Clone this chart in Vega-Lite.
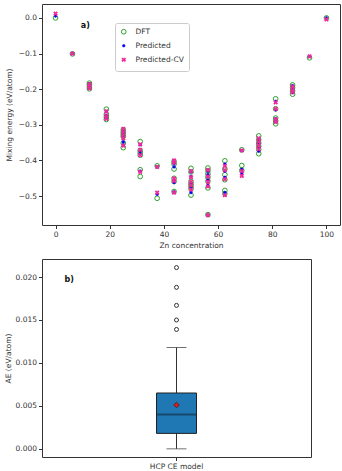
{
  "$schema": "https://vega.github.io/schema/vega-lite/v6.json",
  "padding": {"left": 3, "top": 3, "right": 3, "bottom": 2},
  "config": {
    "font": "DejaVu Sans",
    "view": {"stroke": "#333", "strokeWidth": 1},
    "axis": {"labelFont": "DejaVu Sans", "titleFont": "DejaVu Sans", "labelFontSize": 7.5, "titleFontSize": 7.5, "titleFontWeight": "normal", "labelColor": "#333", "titleColor": "#333", "tickColor": "#333", "tickSize": 3.5, "labelPadding": 2, "grid": false, "domain": false, "titlePadding": 3},
    "legend": {"labelFont": "DejaVu Sans", "labelFontSize": 7.5, "labelColor": "#333"}
  },
  "datasets": {
    "mix": [
      {"c": 0, "e": 0.0, "s": "DFT"},
      {"c": 6.25, "e": -0.101, "s": "DFT"},
      {"c": 12.5, "e": -0.183, "s": "DFT"}, {"c": 12.5, "e": -0.188, "s": "DFT"}, {"c": 12.5, "e": -0.194, "s": "DFT"}, {"c": 12.5, "e": -0.199, "s": "DFT"},
      {"c": 18.75, "e": -0.256, "s": "DFT"}, {"c": 18.75, "e": -0.271, "s": "DFT"}, {"c": 18.75, "e": -0.278, "s": "DFT"}, {"c": 18.75, "e": -0.285, "s": "DFT"},
      {"c": 25, "e": -0.314, "s": "DFT"}, {"c": 25, "e": -0.321, "s": "DFT"}, {"c": 25, "e": -0.327, "s": "DFT"}, {"c": 25, "e": -0.333, "s": "DFT"}, {"c": 25, "e": -0.351, "s": "DFT"}, {"c": 25, "e": -0.364, "s": "DFT"},
      {"c": 31.25, "e": -0.347, "s": "DFT"}, {"c": 31.25, "e": -0.372, "s": "DFT"}, {"c": 31.25, "e": -0.378, "s": "DFT"}, {"c": 31.25, "e": -0.385, "s": "DFT"}, {"c": 31.25, "e": -0.426, "s": "DFT"}, {"c": 31.25, "e": -0.445, "s": "DFT"},
      {"c": 37.5, "e": -0.415, "s": "DFT"}, {"c": 37.5, "e": -0.506, "s": "DFT"},
      {"c": 43.75, "e": -0.403, "s": "DFT"}, {"c": 43.75, "e": -0.41, "s": "DFT"}, {"c": 43.75, "e": -0.424, "s": "DFT"}, {"c": 43.75, "e": -0.45, "s": "DFT"}, {"c": 43.75, "e": -0.459, "s": "DFT"}, {"c": 43.75, "e": -0.487, "s": "DFT"},
      {"c": 50, "e": -0.422, "s": "DFT"}, {"c": 50, "e": -0.432, "s": "DFT"}, {"c": 50, "e": -0.459, "s": "DFT"}, {"c": 50, "e": -0.466, "s": "DFT"}, {"c": 50, "e": -0.472, "s": "DFT"}, {"c": 50, "e": -0.479, "s": "DFT"}, {"c": 50, "e": -0.497, "s": "DFT"},
      {"c": 56.25, "e": -0.421, "s": "DFT"}, {"c": 56.25, "e": -0.429, "s": "DFT"}, {"c": 56.25, "e": -0.438, "s": "DFT"}, {"c": 56.25, "e": -0.447, "s": "DFT"}, {"c": 56.25, "e": -0.458, "s": "DFT"}, {"c": 56.25, "e": -0.477, "s": "DFT"}, {"c": 56.25, "e": -0.552, "s": "DFT"},
      {"c": 62.5, "e": -0.401, "s": "DFT"}, {"c": 62.5, "e": -0.424, "s": "DFT"}, {"c": 62.5, "e": -0.44, "s": "DFT"}, {"c": 62.5, "e": -0.454, "s": "DFT"}, {"c": 62.5, "e": -0.484, "s": "DFT"}, {"c": 62.5, "e": -0.493, "s": "DFT"},
      {"c": 68.75, "e": -0.37, "s": "DFT"}, {"c": 68.75, "e": -0.414, "s": "DFT"}, {"c": 68.75, "e": -0.428, "s": "DFT"},
      {"c": 75, "e": -0.331, "s": "DFT"}, {"c": 75, "e": -0.342, "s": "DFT"}, {"c": 75, "e": -0.351, "s": "DFT"}, {"c": 75, "e": -0.36, "s": "DFT"}, {"c": 75, "e": -0.369, "s": "DFT"}, {"c": 75, "e": -0.381, "s": "DFT"},
      {"c": 81.25, "e": -0.227, "s": "DFT"}, {"c": 81.25, "e": -0.255, "s": "DFT"}, {"c": 81.25, "e": -0.281, "s": "DFT"}, {"c": 81.25, "e": -0.289, "s": "DFT"}, {"c": 81.25, "e": -0.297, "s": "DFT"},
      {"c": 87.5, "e": -0.188, "s": "DFT"}, {"c": 87.5, "e": -0.196, "s": "DFT"}, {"c": 87.5, "e": -0.205, "s": "DFT"}, {"c": 87.5, "e": -0.214, "s": "DFT"},
      {"c": 93.75, "e": -0.112, "s": "DFT"},
      {"c": 100, "e": 0.0, "s": "DFT"},
      {"c": 0, "e": 0.005, "s": "Predicted"},
      {"c": 6.25, "e": -0.1, "s": "Predicted"},
      {"c": 12.5, "e": -0.185, "s": "Predicted"}, {"c": 12.5, "e": -0.19, "s": "Predicted"}, {"c": 12.5, "e": -0.196, "s": "Predicted"},
      {"c": 18.75, "e": -0.262, "s": "Predicted"}, {"c": 18.75, "e": -0.273, "s": "Predicted"}, {"c": 18.75, "e": -0.281, "s": "Predicted"},
      {"c": 25, "e": -0.318, "s": "Predicted"}, {"c": 25, "e": -0.325, "s": "Predicted"}, {"c": 25, "e": -0.332, "s": "Predicted"}, {"c": 25, "e": -0.348, "s": "Predicted"}, {"c": 25, "e": -0.356, "s": "Predicted"},
      {"c": 31.25, "e": -0.356, "s": "Predicted"}, {"c": 31.25, "e": -0.374, "s": "Predicted"}, {"c": 31.25, "e": -0.381, "s": "Predicted"}, {"c": 31.25, "e": -0.43, "s": "Predicted"},
      {"c": 37.5, "e": -0.418, "s": "Predicted"}, {"c": 37.5, "e": -0.495, "s": "Predicted"},
      {"c": 43.75, "e": -0.408, "s": "Predicted"}, {"c": 43.75, "e": -0.418, "s": "Predicted"}, {"c": 43.75, "e": -0.455, "s": "Predicted"}, {"c": 43.75, "e": -0.462, "s": "Predicted"}, {"c": 43.75, "e": -0.488, "s": "Predicted"},
      {"c": 50, "e": -0.432, "s": "Predicted"}, {"c": 50, "e": -0.445, "s": "Predicted"}, {"c": 50, "e": -0.464, "s": "Predicted"}, {"c": 50, "e": -0.475, "s": "Predicted"}, {"c": 50, "e": -0.49, "s": "Predicted"},
      {"c": 56.25, "e": -0.43, "s": "Predicted"}, {"c": 56.25, "e": -0.44, "s": "Predicted"}, {"c": 56.25, "e": -0.455, "s": "Predicted"}, {"c": 56.25, "e": -0.47, "s": "Predicted"}, {"c": 56.25, "e": -0.553, "s": "Predicted"},
      {"c": 62.5, "e": -0.41, "s": "Predicted"}, {"c": 62.5, "e": -0.43, "s": "Predicted"}, {"c": 62.5, "e": -0.447, "s": "Predicted"}, {"c": 62.5, "e": -0.49, "s": "Predicted"},
      {"c": 68.75, "e": -0.372, "s": "Predicted"}, {"c": 68.75, "e": -0.425, "s": "Predicted"}, {"c": 68.75, "e": -0.437, "s": "Predicted"},
      {"c": 75, "e": -0.342, "s": "Predicted"}, {"c": 75, "e": -0.352, "s": "Predicted"}, {"c": 75, "e": -0.363, "s": "Predicted"}, {"c": 75, "e": -0.374, "s": "Predicted"},
      {"c": 81.25, "e": -0.234, "s": "Predicted"}, {"c": 81.25, "e": -0.258, "s": "Predicted"}, {"c": 81.25, "e": -0.283, "s": "Predicted"}, {"c": 81.25, "e": -0.29, "s": "Predicted"},
      {"c": 87.5, "e": -0.19, "s": "Predicted"}, {"c": 87.5, "e": -0.2, "s": "Predicted"}, {"c": 87.5, "e": -0.21, "s": "Predicted"},
      {"c": 93.75, "e": -0.108, "s": "Predicted"},
      {"c": 100, "e": 0.0, "s": "Predicted"},
      {"c": 0, "e": 0.012, "s": "Predicted-CV"},
      {"c": 6.25, "e": -0.1, "s": "Predicted-CV"},
      {"c": 12.5, "e": -0.186, "s": "Predicted-CV"}, {"c": 12.5, "e": -0.192, "s": "Predicted-CV"}, {"c": 12.5, "e": -0.198, "s": "Predicted-CV"},
      {"c": 18.75, "e": -0.262, "s": "Predicted-CV"}, {"c": 18.75, "e": -0.275, "s": "Predicted-CV"}, {"c": 18.75, "e": -0.283, "s": "Predicted-CV"},
      {"c": 25, "e": -0.311, "s": "Predicted-CV"}, {"c": 25, "e": -0.32, "s": "Predicted-CV"}, {"c": 25, "e": -0.329, "s": "Predicted-CV"}, {"c": 25, "e": -0.338, "s": "Predicted-CV"}, {"c": 25, "e": -0.358, "s": "Predicted-CV"},
      {"c": 31.25, "e": -0.355, "s": "Predicted-CV"}, {"c": 31.25, "e": -0.37, "s": "Predicted-CV"}, {"c": 31.25, "e": -0.385, "s": "Predicted-CV"}, {"c": 31.25, "e": -0.432, "s": "Predicted-CV"},
      {"c": 37.5, "e": -0.418, "s": "Predicted-CV"}, {"c": 37.5, "e": -0.49, "s": "Predicted-CV"},
      {"c": 43.75, "e": -0.4, "s": "Predicted-CV"}, {"c": 43.75, "e": -0.406, "s": "Predicted-CV"}, {"c": 43.75, "e": -0.45, "s": "Predicted-CV"}, {"c": 43.75, "e": -0.457, "s": "Predicted-CV"}, {"c": 43.75, "e": -0.49, "s": "Predicted-CV"},
      {"c": 50, "e": -0.43, "s": "Predicted-CV"}, {"c": 50, "e": -0.447, "s": "Predicted-CV"}, {"c": 50, "e": -0.46, "s": "Predicted-CV"}, {"c": 50, "e": -0.47, "s": "Predicted-CV"}, {"c": 50, "e": -0.482, "s": "Predicted-CV"},
      {"c": 56.25, "e": -0.427, "s": "Predicted-CV"}, {"c": 56.25, "e": -0.445, "s": "Predicted-CV"}, {"c": 56.25, "e": -0.46, "s": "Predicted-CV"}, {"c": 56.25, "e": -0.473, "s": "Predicted-CV"}, {"c": 56.25, "e": -0.553, "s": "Predicted-CV"},
      {"c": 62.5, "e": -0.415, "s": "Predicted-CV"}, {"c": 62.5, "e": -0.427, "s": "Predicted-CV"}, {"c": 62.5, "e": -0.452, "s": "Predicted-CV"}, {"c": 62.5, "e": -0.497, "s": "Predicted-CV"},
      {"c": 68.75, "e": -0.372, "s": "Predicted-CV"}, {"c": 68.75, "e": -0.43, "s": "Predicted-CV"}, {"c": 68.75, "e": -0.443, "s": "Predicted-CV"},
      {"c": 75, "e": -0.338, "s": "Predicted-CV"}, {"c": 75, "e": -0.348, "s": "Predicted-CV"}, {"c": 75, "e": -0.358, "s": "Predicted-CV"}, {"c": 75, "e": -0.368, "s": "Predicted-CV"},
      {"c": 81.25, "e": -0.237, "s": "Predicted-CV"}, {"c": 81.25, "e": -0.255, "s": "Predicted-CV"}, {"c": 81.25, "e": -0.285, "s": "Predicted-CV"}, {"c": 81.25, "e": -0.292, "s": "Predicted-CV"},
      {"c": 87.5, "e": -0.193, "s": "Predicted-CV"}, {"c": 87.5, "e": -0.202, "s": "Predicted-CV"}, {"c": 87.5, "e": -0.208, "s": "Predicted-CV"},
      {"c": 93.75, "e": -0.108, "s": "Predicted-CV"},
      {"c": 100, "e": -0.004, "s": "Predicted-CV"}
    ],
    "stats": [
      {"model": "HCP CE model", "lower": 0.0, "q1": 0.0018, "median": 0.004, "q3": 0.0065, "upper": 0.0118, "mean": 0.0051}
    ],
    "outliers": [
      {"model": "HCP CE model", "ae": 0.0139},
      {"model": "HCP CE model", "ae": 0.015},
      {"model": "HCP CE model", "ae": 0.0167},
      {"model": "HCP CE model", "ae": 0.0188},
      {"model": "HCP CE model", "ae": 0.0211}
    ]
  },
  "concat": [
    {
      "width": 298,
      "height": 221,
      "layer": [
        {
          "data": {"name": "mix"},
          "mark": {"type": "point", "opacity": 1},
          "encoding": {
            "x": {"field": "c", "type": "quantitative", "scale": {"domain": [-5, 105], "nice": false, "zero": false}, "axis": {"values": [0, 20, 40, 60, 80, 100], "format": "d", "title": "Zn concentration"}},
            "y": {"field": "e", "type": "quantitative", "scale": {"domain": [-0.581, 0.039], "nice": false, "zero": false}, "axis": {"values": [-0.5, -0.4, -0.3, -0.2, -0.1, 0], "format": ".1f", "title": "Mixing energy (eV/atom)", "titlePadding": 5}},
            "shape": {"field": "s", "type": "nominal", "scale": {"domain": ["DFT", "Predicted", "Predicted-CV"], "range": ["circle", "circle", "M-1,-1L1,1M1,-1L-1,1"]}, "legend": {"orient": "none", "legendX": 73, "legendY": 19, "title": null, "strokeColor": "#ccc", "fillColor": "white", "padding": 5, "cornerRadius": 2, "rowPadding": 4, "labelOffset": 8}},
            "fill": {"field": "s", "type": "nominal", "scale": {"domain": ["DFT", "Predicted", "Predicted-CV"], "range": ["transparent", "#0000ff", "#ee2a9c"]}, "legend": {"orient": "none", "legendX": 73, "legendY": 19, "title": null, "strokeColor": "#ccc", "fillColor": "white", "padding": 5, "cornerRadius": 2, "rowPadding": 4, "labelOffset": 8}},
            "stroke": {"field": "s", "type": "nominal", "scale": {"domain": ["DFT", "Predicted", "Predicted-CV"], "range": ["#2ca02c", "#0000ff", "#ee2a9c"]}, "legend": {"orient": "none", "legendX": 73, "legendY": 19, "title": null, "strokeColor": "#ccc", "fillColor": "white", "padding": 5, "cornerRadius": 2, "rowPadding": 4, "labelOffset": 8}},
            "size": {"field": "s", "type": "nominal", "scale": {"type": "ordinal", "domain": ["DFT", "Predicted", "Predicted-CV"], "range": [22, 7, 12]}, "legend": {"orient": "none", "legendX": 73, "legendY": 19, "title": null, "strokeColor": "#ccc", "fillColor": "white", "padding": 5, "cornerRadius": 2, "rowPadding": 4, "labelOffset": 8}},
            "strokeWidth": {"field": "s", "type": "nominal", "scale": {"type": "ordinal", "domain": ["DFT", "Predicted", "Predicted-CV"], "range": [1, 0.5, 1.8]}, "legend": {"orient": "none", "legendX": 73, "legendY": 19, "title": null, "strokeColor": "#ccc", "fillColor": "white", "padding": 5, "cornerRadius": 2, "rowPadding": 4, "labelOffset": 8}}
          }
        },
        {
          "data": {"values": [{"label": "a)"}]},
          "mark": {"type": "text", "align": "left", "baseline": "middle", "fontWeight": "bold", "fontSize": 8, "color": "#111"},
          "encoding": {"x": {"datum": 9.3}, "y": {"datum": -0.022}, "text": {"field": "label"}}
        }
      ]
    },
    {
      "width": 269,
      "height": 198,
      "layer": [
        {
          "data": {"name": "stats"},
          "mark": {"type": "rule", "color": "#333", "strokeWidth": 1},
          "encoding": {
            "x": {"field": "model", "type": "nominal", "scale": {"paddingInner": 0, "paddingOuter": 0}, "axis": {"title": null, "labelAngle": 0}},
            "y": {"field": "lower", "type": "quantitative", "scale": {"domain": [-0.00095, 0.0221], "nice": false, "zero": false}, "axis": {"values": [0, 0.005, 0.01, 0.015, 0.02], "format": ".3f", "title": "AE (eV/atom)", "titlePadding": 3}},
            "y2": {"field": "upper"}
          }
        },
        {
          "data": {"name": "stats"},
          "mark": {"type": "tick", "color": "#333", "size": 20, "thickness": 1},
          "encoding": {"x": {"field": "model", "type": "nominal"}, "y": {"field": "lower", "type": "quantitative"}}
        },
        {
          "data": {"name": "stats"},
          "mark": {"type": "tick", "color": "#333", "size": 20, "thickness": 1},
          "encoding": {"x": {"field": "model", "type": "nominal"}, "y": {"field": "upper", "type": "quantitative"}}
        },
        {
          "data": {"name": "stats"},
          "mark": {"type": "bar", "size": 40, "fill": "#1f77b4", "stroke": "#222", "strokeWidth": 1},
          "encoding": {"x": {"field": "model", "type": "nominal"}, "y": {"field": "q1", "type": "quantitative"}, "y2": {"field": "q3"}}
        },
        {
          "data": {"name": "stats"},
          "mark": {"type": "tick", "color": "#14354f", "size": 40, "thickness": 1.8},
          "encoding": {"x": {"field": "model", "type": "nominal"}, "y": {"field": "median", "type": "quantitative"}}
        },
        {
          "data": {"name": "stats"},
          "mark": {"type": "point", "shape": "diamond", "filled": true, "fill": "#d62020", "stroke": "#5a1010", "strokeWidth": 0.8, "size": 30, "opacity": 1},
          "encoding": {"x": {"field": "model", "type": "nominal"}, "y": {"field": "mean", "type": "quantitative"}}
        },
        {
          "data": {"name": "outliers"},
          "mark": {"type": "point", "shape": "circle", "filled": false, "stroke": "#333", "strokeWidth": 1, "size": 16, "opacity": 1},
          "encoding": {"x": {"field": "model", "type": "nominal"}, "y": {"field": "ae", "type": "quantitative"}}
        },
        {
          "data": {"values": [{"model": "HCP CE model", "label": "b)"}]},
          "mark": {"type": "text", "align": "left", "baseline": "middle", "fontWeight": "bold", "fontSize": 8, "color": "#111", "dx": -112},
          "encoding": {"x": {"field": "model", "type": "nominal"}, "y": {"datum": 0.0197}, "text": {"field": "label"}}
        }
      ]
    }
  ],
  "columns": 1,
  "align": "none",
  "center": true,
  "spacing": 9
}
